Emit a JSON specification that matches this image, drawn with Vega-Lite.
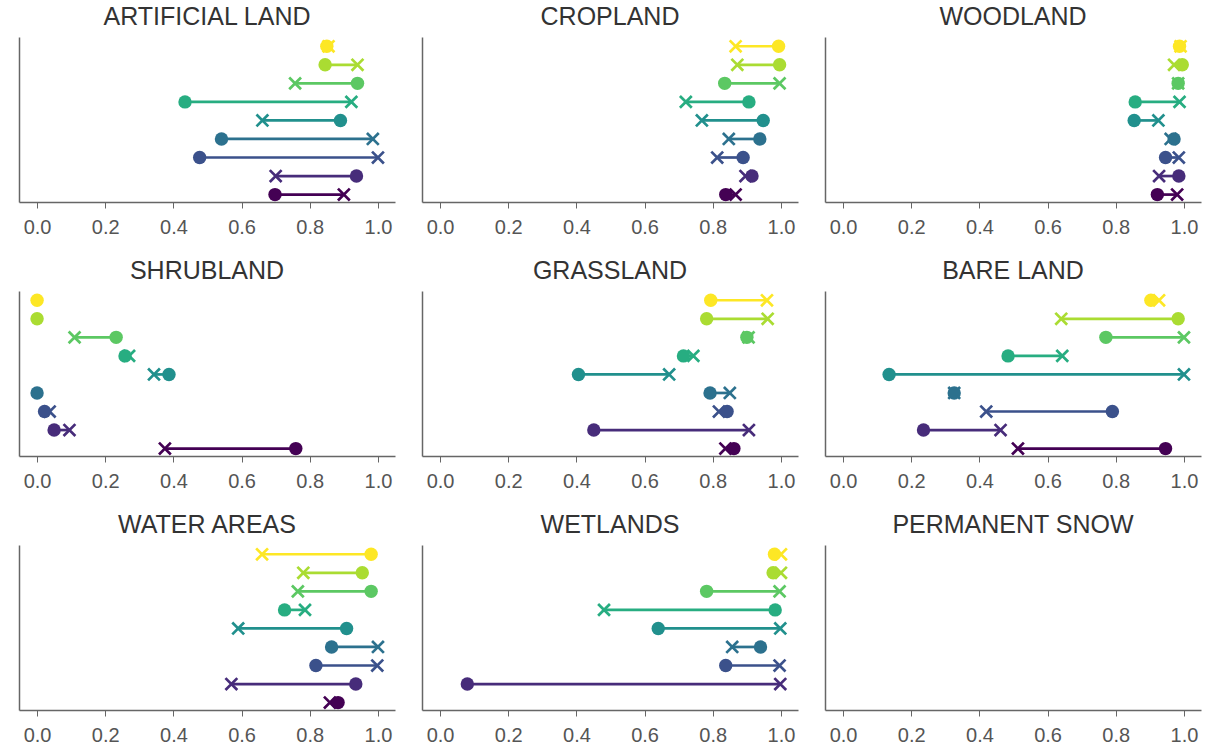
{
  "$schema": "https://vega.github.io/schema/vega-lite/v6.json",
  "padding": {"left": 19, "top": 5, "right": 5, "bottom": 0},
  "config": {
    "font": "Liberation Sans",
    "view": {"stroke": null},
    "title": {"fontSize": 25, "font": "Liberation Sans", "fontWeight": "normal", "color": "#333", "offset": 7, "anchor": "middle"},
    "axis": {"domainColor": "#666", "domainWidth": 1.5, "tickColor": "#666", "labelColor": "#555", "labelFont": "Liberation Sans", "grid": false},
    "rule": {"strokeWidth": 2.7, "strokeJoin": "round"},
    "circle": {"size": 180, "opacity": 1},
    "point": {"shape": "M-1,-1L1,1M1,-1L-1,1", "filled": false, "strokeWidth": 2.7, "strokeJoin": "round", "size": 140, "opacity": 1}
  },
  "data": {"values": [
    {"cat": "ARTIFICIAL LAND", "r": 8, "c": 0.85, "x": 0.855},
    {"cat": "ARTIFICIAL LAND", "r": 7, "c": 0.845, "x": 0.94},
    {"cat": "ARTIFICIAL LAND", "r": 6, "c": 0.94, "x": 0.757},
    {"cat": "ARTIFICIAL LAND", "r": 5, "c": 0.434, "x": 0.922},
    {"cat": "ARTIFICIAL LAND", "r": 4, "c": 0.89, "x": 0.661},
    {"cat": "ARTIFICIAL LAND", "r": 3, "c": 0.541, "x": 0.985},
    {"cat": "ARTIFICIAL LAND", "r": 2, "c": 0.477, "x": 1.0},
    {"cat": "ARTIFICIAL LAND", "r": 1, "c": 0.937, "x": 0.70},
    {"cat": "ARTIFICIAL LAND", "r": 0, "c": 0.698, "x": 0.90},
    {"cat": "CROPLAND", "r": 8, "c": 0.993, "x": 0.867},
    {"cat": "CROPLAND", "r": 7, "c": 0.996, "x": 0.872},
    {"cat": "CROPLAND", "r": 6, "c": 0.835, "x": 0.996},
    {"cat": "CROPLAND", "r": 5, "c": 0.906, "x": 0.721},
    {"cat": "CROPLAND", "r": 4, "c": 0.948, "x": 0.768},
    {"cat": "CROPLAND", "r": 3, "c": 0.938, "x": 0.847},
    {"cat": "CROPLAND", "r": 2, "c": 0.889, "x": 0.813},
    {"cat": "CROPLAND", "r": 1, "c": 0.915, "x": 0.896},
    {"cat": "CROPLAND", "r": 0, "c": 0.838, "x": 0.867},
    {"cat": "WOODLAND", "r": 8, "c": 0.987, "x": 0.99},
    {"cat": "WOODLAND", "r": 7, "c": 0.995, "x": 0.971},
    {"cat": "WOODLAND", "r": 6, "c": 0.983, "x": 0.983},
    {"cat": "WOODLAND", "r": 5, "c": 0.857, "x": 0.987},
    {"cat": "WOODLAND", "r": 4, "c": 0.854, "x": 0.925},
    {"cat": "WOODLAND", "r": 3, "c": 0.971, "x": 0.961},
    {"cat": "WOODLAND", "r": 2, "c": 0.946, "x": 0.985},
    {"cat": "WOODLAND", "r": 1, "c": 0.985, "x": 0.927},
    {"cat": "WOODLAND", "r": 0, "c": 0.922, "x": 0.98},
    {"cat": "SHRUBLAND", "r": 8, "c": 0.0, "x": null},
    {"cat": "SHRUBLAND", "r": 7, "c": 0.0, "x": null},
    {"cat": "SHRUBLAND", "r": 6, "c": 0.232, "x": 0.11},
    {"cat": "SHRUBLAND", "r": 5, "c": 0.258, "x": 0.27},
    {"cat": "SHRUBLAND", "r": 4, "c": 0.387, "x": 0.343},
    {"cat": "SHRUBLAND", "r": 3, "c": 0.0, "x": null},
    {"cat": "SHRUBLAND", "r": 2, "c": 0.022, "x": 0.037},
    {"cat": "SHRUBLAND", "r": 1, "c": 0.05, "x": 0.095},
    {"cat": "SHRUBLAND", "r": 0, "c": 0.759, "x": 0.375},
    {"cat": "GRASSLAND", "r": 8, "c": 0.794, "x": 0.959},
    {"cat": "GRASSLAND", "r": 7, "c": 0.782, "x": 0.961},
    {"cat": "GRASSLAND", "r": 6, "c": 0.90, "x": 0.905},
    {"cat": "GRASSLAND", "r": 5, "c": 0.714, "x": 0.743},
    {"cat": "GRASSLAND", "r": 4, "c": 0.406, "x": 0.672},
    {"cat": "GRASSLAND", "r": 3, "c": 0.792, "x": 0.85},
    {"cat": "GRASSLAND", "r": 2, "c": 0.842, "x": 0.818},
    {"cat": "GRASSLAND", "r": 1, "c": 0.451, "x": 0.906},
    {"cat": "GRASSLAND", "r": 0, "c": 0.862, "x": 0.837},
    {"cat": "BARE LAND", "r": 8, "c": 0.903, "x": 0.927},
    {"cat": "BARE LAND", "r": 7, "c": 0.983, "x": 0.64},
    {"cat": "BARE LAND", "r": 6, "c": 0.771, "x": 1.0},
    {"cat": "BARE LAND", "r": 5, "c": 0.484, "x": 0.643},
    {"cat": "BARE LAND", "r": 4, "c": 0.135, "x": 1.0},
    {"cat": "BARE LAND", "r": 3, "c": 0.326, "x": 0.326},
    {"cat": "BARE LAND", "r": 2, "c": 0.79, "x": 0.42},
    {"cat": "BARE LAND", "r": 1, "c": 0.236, "x": 0.462},
    {"cat": "BARE LAND", "r": 0, "c": 0.946, "x": 0.513},
    {"cat": "WATER AREAS", "r": 8, "c": 0.98, "x": 0.66},
    {"cat": "WATER AREAS", "r": 7, "c": 0.954, "x": 0.781},
    {"cat": "WATER AREAS", "r": 6, "c": 0.98, "x": 0.765},
    {"cat": "WATER AREAS", "r": 5, "c": 0.726, "x": 0.786},
    {"cat": "WATER AREAS", "r": 4, "c": 0.908, "x": 0.59},
    {"cat": "WATER AREAS", "r": 3, "c": 0.864, "x": 1.0},
    {"cat": "WATER AREAS", "r": 2, "c": 0.818, "x": 0.998},
    {"cat": "WATER AREAS", "r": 1, "c": 0.935, "x": 0.57},
    {"cat": "WATER AREAS", "r": 0, "c": 0.883, "x": 0.859},
    {"cat": "WETLANDS", "r": 8, "c": 0.981, "x": 1.0},
    {"cat": "WETLANDS", "r": 7, "c": 0.977, "x": 1.0},
    {"cat": "WETLANDS", "r": 6, "c": 0.782, "x": 0.996},
    {"cat": "WETLANDS", "r": 5, "c": 0.983, "x": 0.481},
    {"cat": "WETLANDS", "r": 4, "c": 0.64, "x": 0.998},
    {"cat": "WETLANDS", "r": 3, "c": 0.94, "x": 0.857},
    {"cat": "WETLANDS", "r": 2, "c": 0.838, "x": 0.996},
    {"cat": "WETLANDS", "r": 1, "c": 0.08, "x": 0.998},
    {"cat": "PERMANENT SNOW", "r": null, "c": null, "x": null}
  ]},
  "columns": 3,
  "spacing": {"row": 22, "column": 27},
  "concat": [
    {"title": "ARTIFICIAL LAND", "transform": [{"filter": "datum.cat === 'ARTIFICIAL LAND'"}], "width": 376, "height": 165,
     "encoding": {"x": {"field": "c", "type": "quantitative", "scale": {"domain": [-0.053, 1.05], "nice": false, "zero": false}, "axis": {"title": null, "values": [0, 0.2, 0.4, 0.6, 0.8, 1.0], "format": ".1f", "tickSize": 6, "labelFontSize": 20, "labelPadding": 9}},
       "y": {"field": "r", "type": "quantitative", "scale": {"domain": [-0.4, 8.5], "nice": false, "zero": false}, "axis": {"title": null, "ticks": false, "labels": false}},
       "color": {"field": "r", "type": "ordinal", "scale": {"domain": [0,1,2,3,4,5,6,7,8], "range": ["#440154", "#472c7a", "#3b518b", "#2c718e", "#21908d", "#27ad81", "#5cc863", "#aadc32", "#fde725"]}, "legend": null}},
     "layer": [
       {"transform": [{"filter": "datum.x != null"}], "mark": "rule", "encoding": {"x2": {"field": "x"}}},
       {"mark": "point", "encoding": {"x": {"field": "x", "type": "quantitative", "scale": {"domain": [-0.053, 1.05], "nice": false, "zero": false}, "axis": {"title": null, "values": [0, 0.2, 0.4, 0.6, 0.8, 1.0], "format": ".1f", "tickSize": 6, "labelFontSize": 20, "labelPadding": 9}}}},
       {"mark": "circle"}
     ]},
    {"title": "CROPLAND", "transform": [{"filter": "datum.cat === 'CROPLAND'"}], "width": 376, "height": 165,
     "encoding": {"x": {"field": "c", "type": "quantitative", "scale": {"domain": [-0.053, 1.05], "nice": false, "zero": false}, "axis": {"title": null, "values": [0, 0.2, 0.4, 0.6, 0.8, 1.0], "format": ".1f", "tickSize": 6, "labelFontSize": 20, "labelPadding": 9}},
       "y": {"field": "r", "type": "quantitative", "scale": {"domain": [-0.4, 8.5], "nice": false, "zero": false}, "axis": {"title": null, "ticks": false, "labels": false}},
       "color": {"field": "r", "type": "ordinal", "scale": {"domain": [0,1,2,3,4,5,6,7,8], "range": ["#440154", "#472c7a", "#3b518b", "#2c718e", "#21908d", "#27ad81", "#5cc863", "#aadc32", "#fde725"]}, "legend": null}},
     "layer": [
       {"transform": [{"filter": "datum.x != null"}], "mark": "rule", "encoding": {"x2": {"field": "x"}}},
       {"mark": "point", "encoding": {"x": {"field": "x", "type": "quantitative", "scale": {"domain": [-0.053, 1.05], "nice": false, "zero": false}, "axis": {"title": null, "values": [0, 0.2, 0.4, 0.6, 0.8, 1.0], "format": ".1f", "tickSize": 6, "labelFontSize": 20, "labelPadding": 9}}}},
       {"mark": "circle"}
     ]},
    {"title": "WOODLAND", "transform": [{"filter": "datum.cat === 'WOODLAND'"}], "width": 376, "height": 165,
     "encoding": {"x": {"field": "c", "type": "quantitative", "scale": {"domain": [-0.053, 1.05], "nice": false, "zero": false}, "axis": {"title": null, "values": [0, 0.2, 0.4, 0.6, 0.8, 1.0], "format": ".1f", "tickSize": 6, "labelFontSize": 20, "labelPadding": 9}},
       "y": {"field": "r", "type": "quantitative", "scale": {"domain": [-0.4, 8.5], "nice": false, "zero": false}, "axis": {"title": null, "ticks": false, "labels": false}},
       "color": {"field": "r", "type": "ordinal", "scale": {"domain": [0,1,2,3,4,5,6,7,8], "range": ["#440154", "#472c7a", "#3b518b", "#2c718e", "#21908d", "#27ad81", "#5cc863", "#aadc32", "#fde725"]}, "legend": null}},
     "layer": [
       {"transform": [{"filter": "datum.x != null"}], "mark": "rule", "encoding": {"x2": {"field": "x"}}},
       {"mark": "point", "encoding": {"x": {"field": "x", "type": "quantitative", "scale": {"domain": [-0.053, 1.05], "nice": false, "zero": false}, "axis": {"title": null, "values": [0, 0.2, 0.4, 0.6, 0.8, 1.0], "format": ".1f", "tickSize": 6, "labelFontSize": 20, "labelPadding": 9}}}},
       {"mark": "circle"}
     ]},
    {"title": "SHRUBLAND", "transform": [{"filter": "datum.cat === 'SHRUBLAND'"}], "width": 376, "height": 165,
     "encoding": {"x": {"field": "c", "type": "quantitative", "scale": {"domain": [-0.053, 1.05], "nice": false, "zero": false}, "axis": {"title": null, "values": [0, 0.2, 0.4, 0.6, 0.8, 1.0], "format": ".1f", "tickSize": 6, "labelFontSize": 20, "labelPadding": 9}},
       "y": {"field": "r", "type": "quantitative", "scale": {"domain": [-0.4, 8.5], "nice": false, "zero": false}, "axis": {"title": null, "ticks": false, "labels": false}},
       "color": {"field": "r", "type": "ordinal", "scale": {"domain": [0,1,2,3,4,5,6,7,8], "range": ["#440154", "#472c7a", "#3b518b", "#2c718e", "#21908d", "#27ad81", "#5cc863", "#aadc32", "#fde725"]}, "legend": null}},
     "layer": [
       {"transform": [{"filter": "datum.x != null"}], "mark": "rule", "encoding": {"x2": {"field": "x"}}},
       {"mark": "point", "encoding": {"x": {"field": "x", "type": "quantitative", "scale": {"domain": [-0.053, 1.05], "nice": false, "zero": false}, "axis": {"title": null, "values": [0, 0.2, 0.4, 0.6, 0.8, 1.0], "format": ".1f", "tickSize": 6, "labelFontSize": 20, "labelPadding": 9}}}},
       {"mark": "circle"}
     ]},
    {"title": "GRASSLAND", "transform": [{"filter": "datum.cat === 'GRASSLAND'"}], "width": 376, "height": 165,
     "encoding": {"x": {"field": "c", "type": "quantitative", "scale": {"domain": [-0.053, 1.05], "nice": false, "zero": false}, "axis": {"title": null, "values": [0, 0.2, 0.4, 0.6, 0.8, 1.0], "format": ".1f", "tickSize": 6, "labelFontSize": 20, "labelPadding": 9}},
       "y": {"field": "r", "type": "quantitative", "scale": {"domain": [-0.4, 8.5], "nice": false, "zero": false}, "axis": {"title": null, "ticks": false, "labels": false}},
       "color": {"field": "r", "type": "ordinal", "scale": {"domain": [0,1,2,3,4,5,6,7,8], "range": ["#440154", "#472c7a", "#3b518b", "#2c718e", "#21908d", "#27ad81", "#5cc863", "#aadc32", "#fde725"]}, "legend": null}},
     "layer": [
       {"transform": [{"filter": "datum.x != null"}], "mark": "rule", "encoding": {"x2": {"field": "x"}}},
       {"mark": "point", "encoding": {"x": {"field": "x", "type": "quantitative", "scale": {"domain": [-0.053, 1.05], "nice": false, "zero": false}, "axis": {"title": null, "values": [0, 0.2, 0.4, 0.6, 0.8, 1.0], "format": ".1f", "tickSize": 6, "labelFontSize": 20, "labelPadding": 9}}}},
       {"mark": "circle"}
     ]},
    {"title": "BARE LAND", "transform": [{"filter": "datum.cat === 'BARE LAND'"}], "width": 376, "height": 165,
     "encoding": {"x": {"field": "c", "type": "quantitative", "scale": {"domain": [-0.053, 1.05], "nice": false, "zero": false}, "axis": {"title": null, "values": [0, 0.2, 0.4, 0.6, 0.8, 1.0], "format": ".1f", "tickSize": 6, "labelFontSize": 20, "labelPadding": 9}},
       "y": {"field": "r", "type": "quantitative", "scale": {"domain": [-0.4, 8.5], "nice": false, "zero": false}, "axis": {"title": null, "ticks": false, "labels": false}},
       "color": {"field": "r", "type": "ordinal", "scale": {"domain": [0,1,2,3,4,5,6,7,8], "range": ["#440154", "#472c7a", "#3b518b", "#2c718e", "#21908d", "#27ad81", "#5cc863", "#aadc32", "#fde725"]}, "legend": null}},
     "layer": [
       {"transform": [{"filter": "datum.x != null"}], "mark": "rule", "encoding": {"x2": {"field": "x"}}},
       {"mark": "point", "encoding": {"x": {"field": "x", "type": "quantitative", "scale": {"domain": [-0.053, 1.05], "nice": false, "zero": false}, "axis": {"title": null, "values": [0, 0.2, 0.4, 0.6, 0.8, 1.0], "format": ".1f", "tickSize": 6, "labelFontSize": 20, "labelPadding": 9}}}},
       {"mark": "circle"}
     ]},
    {"title": "WATER AREAS", "transform": [{"filter": "datum.cat === 'WATER AREAS'"}], "width": 376, "height": 165,
     "encoding": {"x": {"field": "c", "type": "quantitative", "scale": {"domain": [-0.053, 1.05], "nice": false, "zero": false}, "axis": {"title": null, "values": [0, 0.2, 0.4, 0.6, 0.8, 1.0], "format": ".1f", "tickSize": 6, "labelFontSize": 20, "labelPadding": 9}},
       "y": {"field": "r", "type": "quantitative", "scale": {"domain": [-0.4, 8.5], "nice": false, "zero": false}, "axis": {"title": null, "ticks": false, "labels": false}},
       "color": {"field": "r", "type": "ordinal", "scale": {"domain": [0,1,2,3,4,5,6,7,8], "range": ["#440154", "#472c7a", "#3b518b", "#2c718e", "#21908d", "#27ad81", "#5cc863", "#aadc32", "#fde725"]}, "legend": null}},
     "layer": [
       {"transform": [{"filter": "datum.x != null"}], "mark": "rule", "encoding": {"x2": {"field": "x"}}},
       {"mark": "point", "encoding": {"x": {"field": "x", "type": "quantitative", "scale": {"domain": [-0.053, 1.05], "nice": false, "zero": false}, "axis": {"title": null, "values": [0, 0.2, 0.4, 0.6, 0.8, 1.0], "format": ".1f", "tickSize": 6, "labelFontSize": 20, "labelPadding": 9}}}},
       {"mark": "circle"}
     ]},
    {"title": "WETLANDS", "transform": [{"filter": "datum.cat === 'WETLANDS'"}], "width": 376, "height": 165,
     "encoding": {"x": {"field": "c", "type": "quantitative", "scale": {"domain": [-0.053, 1.05], "nice": false, "zero": false}, "axis": {"title": null, "values": [0, 0.2, 0.4, 0.6, 0.8, 1.0], "format": ".1f", "tickSize": 6, "labelFontSize": 20, "labelPadding": 9}},
       "y": {"field": "r", "type": "quantitative", "scale": {"domain": [-0.4, 8.5], "nice": false, "zero": false}, "axis": {"title": null, "ticks": false, "labels": false}},
       "color": {"field": "r", "type": "ordinal", "scale": {"domain": [0,1,2,3,4,5,6,7,8], "range": ["#440154", "#472c7a", "#3b518b", "#2c718e", "#21908d", "#27ad81", "#5cc863", "#aadc32", "#fde725"]}, "legend": null}},
     "layer": [
       {"transform": [{"filter": "datum.x != null"}], "mark": "rule", "encoding": {"x2": {"field": "x"}}},
       {"mark": "point", "encoding": {"x": {"field": "x", "type": "quantitative", "scale": {"domain": [-0.053, 1.05], "nice": false, "zero": false}, "axis": {"title": null, "values": [0, 0.2, 0.4, 0.6, 0.8, 1.0], "format": ".1f", "tickSize": 6, "labelFontSize": 20, "labelPadding": 9}}}},
       {"mark": "circle"}
     ]},
    {"title": "PERMANENT SNOW", "transform": [{"filter": "datum.cat === 'PERMANENT SNOW'"}], "width": 376, "height": 165,
     "encoding": {"x": {"field": "c", "type": "quantitative", "scale": {"domain": [-0.053, 1.05], "nice": false, "zero": false}, "axis": {"title": null, "values": [0, 0.2, 0.4, 0.6, 0.8, 1.0], "format": ".1f", "tickSize": 6, "labelFontSize": 20, "labelPadding": 9}},
       "y": {"field": "r", "type": "quantitative", "scale": {"domain": [-0.4, 8.5], "nice": false, "zero": false}, "axis": {"title": null, "ticks": false, "labels": false}},
       "color": {"field": "r", "type": "ordinal", "scale": {"domain": [0,1,2,3,4,5,6,7,8], "range": ["#440154", "#472c7a", "#3b518b", "#2c718e", "#21908d", "#27ad81", "#5cc863", "#aadc32", "#fde725"]}, "legend": null}},
     "layer": [
       {"transform": [{"filter": "datum.x != null"}], "mark": "rule", "encoding": {"x2": {"field": "x"}}},
       {"mark": "point", "encoding": {"x": {"field": "x", "type": "quantitative", "scale": {"domain": [-0.053, 1.05], "nice": false, "zero": false}, "axis": {"title": null, "values": [0, 0.2, 0.4, 0.6, 0.8, 1.0], "format": ".1f", "tickSize": 6, "labelFontSize": 20, "labelPadding": 9}}}},
       {"mark": "circle"}
     ]}
  ]
}
